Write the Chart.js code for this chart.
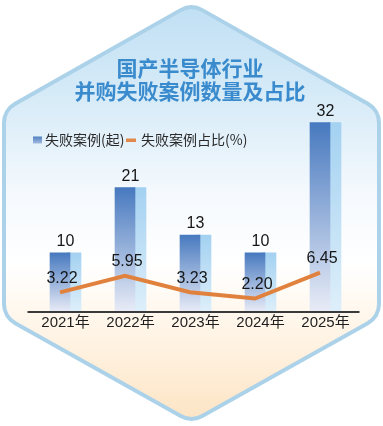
<!DOCTYPE html>
<html lang="zh">
  <head>
    <meta charset="UTF-8" />
    <title>国产半导体行业并购失败案例数量及占比</title>
    <style>
      html, body { margin: 0; padding: 0; background: #fff; }
      #wrap { width: 383px; height: 426px; }
    </style>
  </head>
  <body>
    <div id="wrap"><canvas id="chart" width="383" height="426"></canvas></div>
    <script src="https://cdn.jsdelivr.net/npm/chart.js@4.4.0/dist/chart.umd.min.js"></script>
    <script>
      // data
      const years = ["2021年", "2022年", "2023年", "2024年", "2025年"];
      const failedCases = [10, 21, 13, 10, 32];
      const failedShare = [3.22, 5.95, 3.23, 2.20, 6.45];
      const seriesNames = ["失败案例(起)", "失败案例占比(%)"];
      const titleLines = ["国产半导体行业", "并购失败案例数量及占比"];

      const numFont = "'Liberation Sans', 'Noto Sans CJK SC', sans-serif";
      const cjkFont = "'Noto Sans CJK SC', sans-serif";

      // vertical gradient that runs from the top of each bar to the baseline
      function barGrad(top, bottom) {
        return (c) => {
          const chart = c.chart;
          if (!chart.chartArea || c.type !== "data") return top;
          const y = chart.scales.y;
          const g = chart.ctx.createLinearGradient(0, y.getPixelForValue(c.raw), 0, y.getPixelForValue(0));
          g.addColorStop(0, top);
          g.addColorStop(1, bottom);
          return g;
        };
      }

      function roundedPoly(ctx, pts, r) {
        ctx.beginPath();
        const n = pts.length;
        const a = pts[n - 1], b = pts[0];
        ctx.moveTo((a[0] + b[0]) / 2, (a[1] + b[1]) / 2);
        for (let i = 0; i < n; i++) {
          const p = pts[i], q = pts[(i + 1) % n];
          ctx.arcTo(p[0], p[1], q[0], q[1], r);
        }
        ctx.closePath();
      }

      const hexBackground = {
        id: "hexBackground",
        beforeDraw(chart) {
          const ctx = chart.ctx;
          ctx.save();
          ctx.fillStyle = "#ffffff";
          ctx.fillRect(0, 0, chart.width, chart.height);
          const hex = [[191.5, 4], [379, 110], [379, 317], [191.5, 422], [4, 317], [4, 110]];
          roundedPoly(ctx, hex, 22);
          const g = ctx.createLinearGradient(0, 0, 0, 426);
          g.addColorStop(0, "#bfdff4");
          g.addColorStop(0.25, "#d9ecf8");
          g.addColorStop(0.45, "#f4f9fd");
          g.addColorStop(0.62, "#ffffff");
          g.addColorStop(0.8, "#fff3e3");
          g.addColorStop(1, "#fde3c2");
          ctx.fillStyle = g;
          ctx.fill();
          ctx.lineWidth = 4;
          ctx.strokeStyle = "#acd2ea";
          ctx.stroke();
          ctx.restore();
        }
      };

      const annotations = {
        id: "annotations",
        afterDatasetsDraw(chart) {
          const ctx = chart.ctx;
          const { chartArea, scales } = chart;
          ctx.save();
          // baseline
          const y0 = scales.y.getPixelForValue(0);
          ctx.strokeStyle = "#3a3a3a";
          ctx.lineWidth = 2;
          ctx.beginPath();
          ctx.moveTo(chartArea.left, y0);
          ctx.lineTo(chartArea.right + 7, y0);
          ctx.stroke();

          ctx.fillStyle = "#161616";
          ctx.textAlign = "center";
          ctx.textBaseline = "middle";
          ctx.font = "16px " + numFont;
          // bar values, centred on the whole (dark + light) bar
          const dark = chart.getDatasetMeta(1).data;
          const light = chart.getDatasetMeta(2).data;
          dark.forEach((bar, i) => {
            const l = light[i];
            const cx = (bar.x - bar.width / 2 + l.x + l.width / 2) / 2;
            ctx.fillText(String(failedCases[i]), cx, bar.y - 11);
          });
          // line values
          chart.getDatasetMeta(3).data.forEach((pt, i) => {
            ctx.fillText(failedShare[i].toFixed(2), pt.x + 2, pt.y - 14);
          });

          // legend
          const lg = ctx.createLinearGradient(0, 136, 0, 144);
          lg.addColorStop(0, "#4a7cc0");
          lg.addColorStop(1, "#a9bfe0");
          ctx.fillStyle = lg;
          ctx.fillRect(33, 136.5, 9, 7);
          ctx.fillStyle = "#e0894a";
          ctx.fillRect(126, 138.5, 10, 3.5);
          ctx.fillStyle = "#2a2a2a";
          ctx.textAlign = "left";
          ctx.font = "14px " + cjkFont;
          ctx.fillText(chart.data.datasets[1].label, 45, 140);
          ctx.fillText(chart.data.datasets[3].label, 141, 140);
          ctx.restore();
        }
      };

      new Chart(document.getElementById("chart"), {
        type: "bar",
        data: {
          labels: years,
          datasets: [
            {
              // empty slot so the dark bar sits on the category centre
              label: "",
              data: years.map(() => 0),
              backgroundColor: "rgba(0,0,0,0)",
              barThickness: 20,
              order: 1
            },
            {
              label: seriesNames[0],
              data: failedCases,
              backgroundColor: barGrad("#4779bf", "#e9ecf7"),
              barThickness: 20,
              order: 2
            },
            {
              label: seriesNames[0],
              data: failedCases,
              backgroundColor: barGrad("#a3d1f1", "#deeffa"),
              barThickness: 14,
              order: 3
            },
            {
              type: "line",
              label: seriesNames[1],
              data: failedShare,
              yAxisID: "y2",
              borderColor: "#e0823d",
              borderWidth: 4,
              pointRadius: 0,
              tension: 0,
              order: 0
            }
          ]
        },
        options: {
          responsive: false,
          animation: false,
          layout: { padding: { left: 27.5, right: 30.5, top: 0, bottom: 93 } },
          plugins: {
            legend: { display: false },
            tooltip: { enabled: false },
            title: {
              display: true,
              text: titleLines,
              color: "#3a8bcd",
              font: { family: cjkFont, size: 21, weight: "bold", lineHeight: 1.1 },
              padding: { top: 56.5, bottom: 2 }
            }
          },
          scales: {
            x: {
              grid: { display: false, drawTicks: false },
              border: { display: false },
              ticks: {
                color: "#1e1e1e",
                font: { family: numFont, size: 15 },
                padding: 1.5,
                labelOffset: 5.5
              }
            },
            y: { display: false, min: 0, max: 35 },
            y2: { display: false, min: 0, max: 34 }
          }
        },
        plugins: [hexBackground, annotations]
      });
    </script>
  </body>
</html>
